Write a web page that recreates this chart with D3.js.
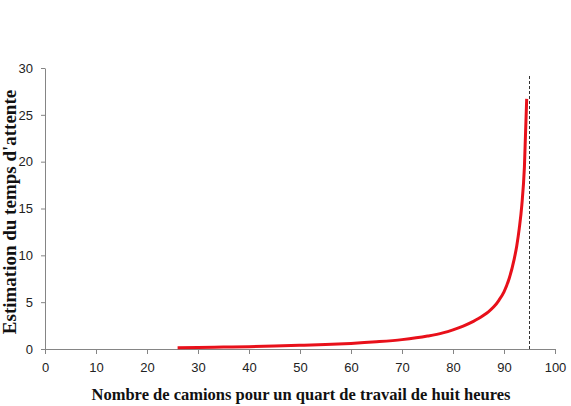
<!DOCTYPE html>
<html><head><meta charset="utf-8">
<script src="https://cdn.jsdelivr.net/npm/d3@7"></script>
<style>
body{margin:0;background:#fff;}
svg{display:block;}
</style></head>
<body>
<svg id="chart" width="571" height="406"></svg>
<script>
const trucks = [26, 30, 35, 40, 45, 50, 55, 60, 65, 70, 75, 78, 80, 82, 84, 85, 86, 87, 88, 89, 90, 91, 92, 92.5, 93, 93.5, 94, 94.45];
const waitTime = [0.14, 0.17, 0.21, 0.25, 0.31, 0.39, 0.48, 0.6, 0.77, 1.0, 1.38, 1.72, 2.05, 2.45, 2.95, 3.25, 3.6, 4.0, 4.5, 5.2, 6.1, 7.5, 9.6, 11.0, 12.9, 15.4, 19.4, 26.7];
const xTicks = [0, 10, 20, 30, 40, 50, 60, 70, 80, 90, 100];
const yTicks = [0, 5, 10, 15, 20, 25, 30];
const capacity = [95];
const xTitle = "Nombre de camions pour un quart de travail de huit heures";
const yTitle = "Estimation du temps d'attente";

const svg = d3.select("#chart");
const x = d3.scaleLinear().domain([0, 100]).range([45, 555]);
const y = d3.scaleLinear().domain([0, 30]).range([349, 68]);

const axisColor = "#858585";

const gx = svg.append("g").attr("transform", `translate(0,${y(0)})`)
  .call(d3.axisBottom(x).tickValues(xTicks).tickSize(5).tickPadding(9).tickSizeOuter(0));
const gy = svg.append("g").attr("transform", `translate(${x(0)},0)`)
  .call(d3.axisLeft(y).tickValues(yTicks).tickSize(4).tickPadding(8).tickSizeOuter(0));
[gx, gy].forEach(g => {
  g.select(".domain").attr("stroke", axisColor).attr("stroke-width", 1);
  g.selectAll(".tick line").attr("stroke", axisColor);
  g.selectAll(".tick text").attr("fill", "#222").attr("font-family", "Liberation Sans, Arial, sans-serif").attr("font-size", 13);
});

// capacity dashed line
svg.selectAll(".cap").data(capacity).enter().append("line")
  .attr("x1", d => x(d)).attr("x2", d => x(d))
  .attr("y1", y(0)).attr("y2", y(29.2))
  .attr("stroke", "#333").attr("stroke-width", 1).attr("stroke-dasharray", "3,2");

const data = trucks.map((t, i) => ({x: t, y: waitTime[i]}));
svg.append("path").datum(data)
  .attr("fill", "none").attr("stroke", "#e8101a").attr("stroke-width", 3)
  .attr("stroke-linejoin", "round")
  .attr("d", d3.line().x(d => x(d.x)).y(d => y(d.y)).curve(d3.curveMonotoneX));

svg.append("text").attr("x", 301).attr("y", 400).attr("text-anchor", "middle")
  .attr("font-family", "Liberation Serif, Times New Roman, serif").attr("font-weight", "bold")
  .attr("font-size", 16.5).attr("fill", "#111").text(xTitle);

svg.append("text").attr("transform", "translate(16,212) rotate(-90)").attr("text-anchor", "middle")
  .attr("font-family", "Liberation Serif, Times New Roman, serif").attr("font-weight", "bold")
  .attr("font-size", 19).attr("fill", "#111").text(yTitle);
</script>
</body></html>
